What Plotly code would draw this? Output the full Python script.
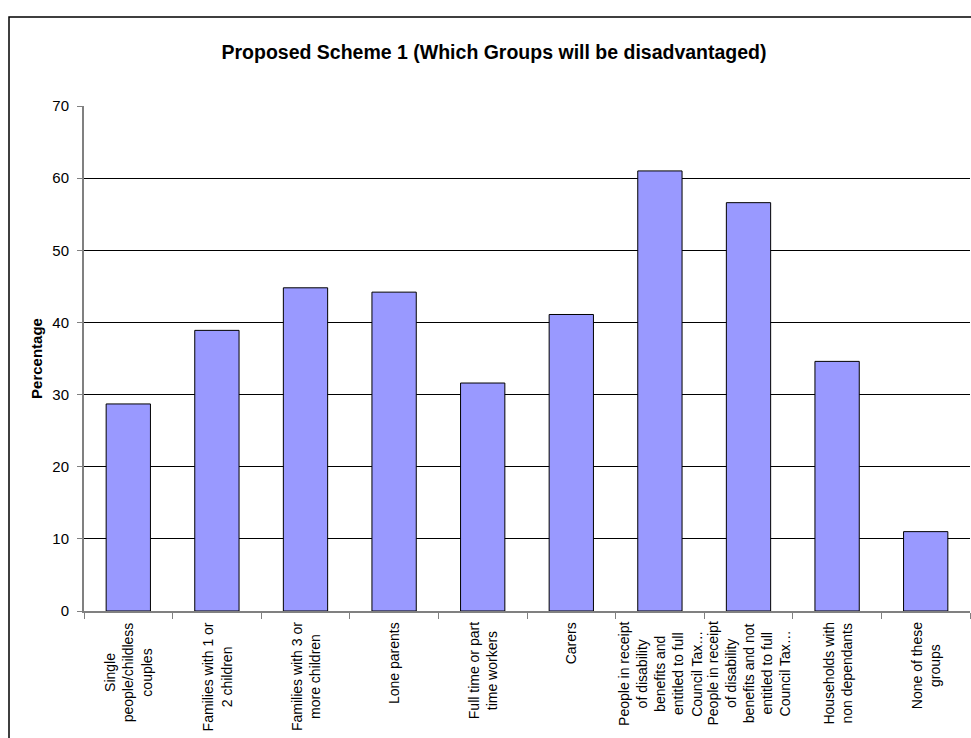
import plotly.graph_objects as go

# Survey responses: share of respondents naming each group
categories = [
    "Single<br>people/childless<br>couples",
    "Families with 1 or<br>2 children",
    "Families with 3 or<br>more children",
    "Lone parents",
    "Full time or part<br>time workers",
    "Carers",
    "People in receipt<br>of disability<br>benefits and<br>entitled to full<br>Council Tax\u2026",
    "People in receipt<br>of disability<br>benefits and not<br>entitled to full<br>Council Tax\u2026",
    "Households with<br>non dependants",
    "None of these<br>groups",
]
percentages = [28.7, 38.9, 44.8, 44.2, 31.6, 41.1, 61.0, 56.6, 34.6, 11.0]
y_ticks = [0, 10, 20, 30, 40, 50, 60, 70]

FONT = "Liberation Sans, Arial, sans-serif"
W, H = 971, 738
ML, MR, MT, MB = 84, 1, 106, 127

fig = go.Figure(
    go.Bar(
        x=categories,
        y=percentages,
        marker=dict(color="#9999FF", line=dict(color="#000000", width=1)),
        hoverinfo="x+y",
    )
)

fig.update_layout(
    width=W,
    height=H,
    margin=dict(l=ML, r=MR, t=MT, b=MB),
    paper_bgcolor="white",
    plot_bgcolor="white",
    bargap=0.5,
    showlegend=False,
    font=dict(family=FONT, size=15, color="#000000"),
    title=dict(
        text="<b>Proposed Scheme 1 (Which Groups will be disadvantaged)</b>",
        x=494 / W,
        xanchor="center",
        y=1 - 52 / H,
        yanchor="middle",
        xref="container",
        yref="container",
        font=dict(family=FONT, size=19.5, color="#000000"),
    ),
)

# Category axis: ticks between bars; labels are drawn as centred, rotated text below
fig.update_xaxes(
    type="category",
    tickson="boundaries",
    ticks="outside",
    ticklen=6,
    tickcolor="#808080",
    showticklabels=False,
    showline=True,
    linecolor="#808080",
    linewidth=2,
    showgrid=False,
)

for cat in categories:
    fig.add_annotation(
        x=cat,
        xref="x",
        y=0,
        yref="paper",
        yanchor="top",
        xanchor="center",
        yshift=-9,
        text=cat,
        textangle=-90,
        align="center",
        showarrow=False,
        font=dict(family=FONT, size=14, color="#000000"),
    )

fig.update_yaxes(
    range=[0, 70],
    tickvals=y_ticks,
    ticks="outside",
    ticklen=5,
    tickcolor="#808080",
    ticklabelstandoff=5,
    showline=True,
    linecolor="#808080",
    linewidth=2,
    showgrid=True,
    gridcolor="#000000",
    gridwidth=1,
    zeroline=False,
    tickfont=dict(family=FONT, size=15, color="#000000"),
    title=dict(text="<b>Percentage</b>", font=dict(family=FONT, size=15), standoff=6),
)

# Chart-area border (left and top edges visible, the rest runs off the page)
pw = W - ML - MR
ph = H - MT - MB
fig.add_shape(
    type="rect",
    xref="paper",
    yref="paper",
    x0=(9 - ML) / pw,
    x1=(W + 5 - ML) / pw,
    y0=-(MB + 5) / ph,
    y1=1 + (MT - 17) / ph,
    line=dict(color="#000000", width=1.5),
    fillcolor="rgba(0,0,0,0)",
    layer="below",
)

fig.write_html("out.html")
